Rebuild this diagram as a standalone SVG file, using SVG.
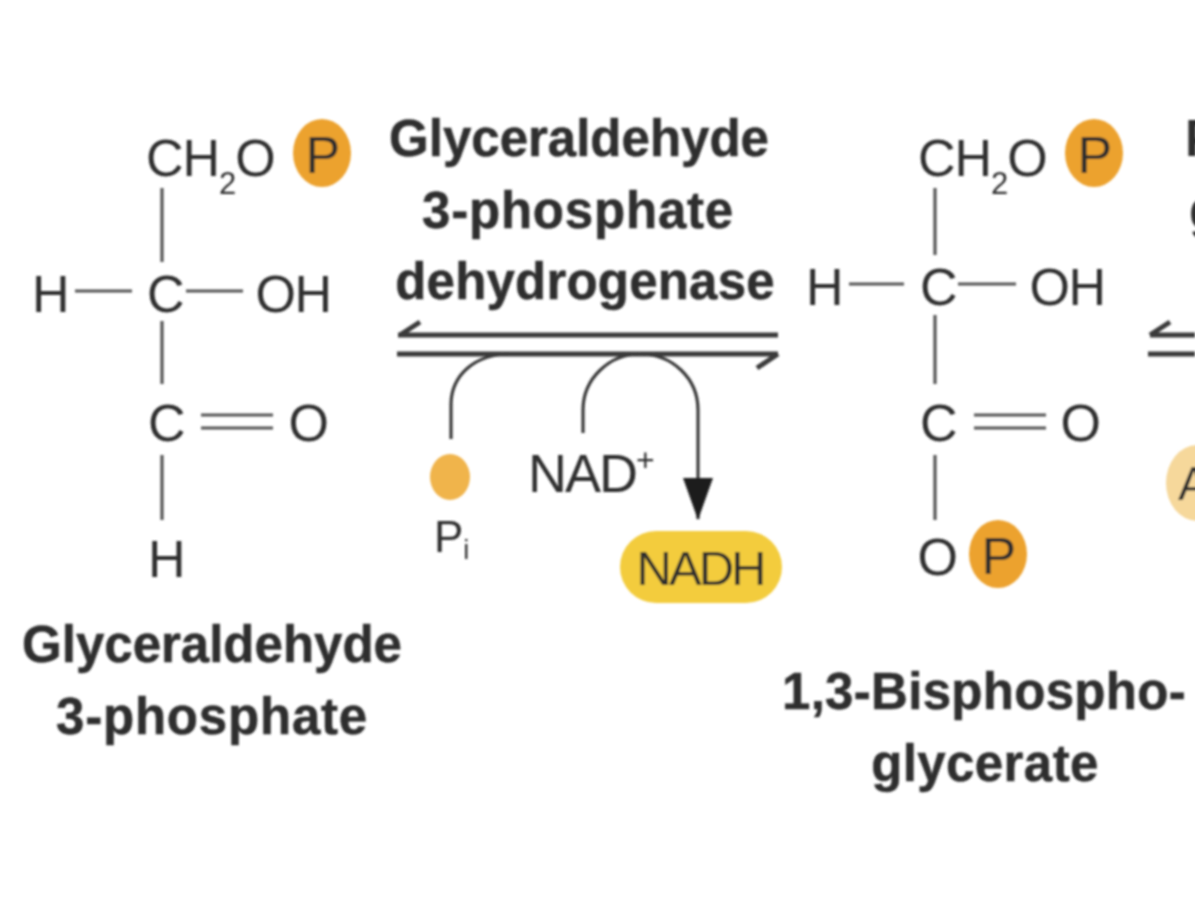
<svg xmlns="http://www.w3.org/2000/svg" width="1195" height="908" viewBox="0 0 1195 908">
<defs>
<filter id="soft" x="-5%" y="-5%" width="110%" height="110%"><feGaussianBlur stdDeviation="0.8"/></filter>
<marker id="head" markerUnits="userSpaceOnUse" markerWidth="42" markerHeight="30" refX="41" refY="15" orient="auto" viewBox="0 0 42 30"><path d="M0 0L42 15L0 30Z" fill="#1f1f1f"/></marker>
</defs>
<style>
text{font-family:"Liberation Sans",Arial,sans-serif;fill:#2f2f2f}
.a{font-size:52px;text-anchor:middle;letter-spacing:-1.5px}
.s{font-size:31px}
.b{font-size:51px;font-weight:700;text-anchor:middle;fill:#2f2f2f;stroke:#2f2f2f;stroke-width:.5}
.w{letter-spacing:.8px}
.bond{stroke:#555;stroke-width:3.2;fill:none}
.eq{stroke:#3a3a3a;stroke-width:5;fill:none}
.thin{stroke:#3a3a3a;stroke-width:3.2;fill:none}
.p{fill:#eca22f}
</style>
<rect width="1195" height="908" fill="#fff"/>
<g filter="url(#soft)">
<g id="connectors">
<path class="bond" d="M162 188V262M75 291H132M186 291H243M162 321V384M201 415H273M201 428H273M162 455V520"/>
<path class="bond" d="M935 188V255M849 284H904M958 284H1016M935 315V384M974 415H1046M974 428H1046M935 455V520"/>
<path class="eq" d="M398 335H778M400 335L420 322M397 354H778M778 354L757 368"/>
<path class="eq" d="M1195 335H1150M1150 335L1170 322M1148 354H1195"/>
<path class="thin" d="M451 439V405C451 375 475 354 510 354"/>
<path class="thin" d="M583 433V410C583 378 610 354 640 354C672 354 698 378 698 410V519" marker-end="url(#head)"/>
</g>
<g id="glyceraldehyde-3-phosphate">
<text class="a" x="146" y="176" style="text-anchor:start;letter-spacing:-1px">CH<tspan class="s" dy="18">2</tspan><tspan dy="-18">O</tspan></text>
<ellipse class="p" cx="322" cy="153" rx="29" ry="34"/><text class="a" x="322" y="173">P</text>
<text class="a" x="50" y="312">H</text><text class="a" x="165" y="312">C</text><text class="a" x="293" y="312">OH</text>
<text class="a" x="166" y="441">C</text><text class="a" x="308" y="441">O</text><text class="a" x="166" y="577">H</text>
<text class="b" x="212" y="662">Glyceraldehyde</text><text class="b w" x="212" y="734">3-phosphate</text>
</g>
<g id="enzyme">
<text class="b" x="579" y="156">Glyceraldehyde</text><text class="b w" x="578" y="228">3-phosphate</text><text class="b" x="585" y="299" style="letter-spacing:.2px">dehydrogenase</text>
</g>
<g id="pi"><ellipse cx="450" cy="477" rx="20" ry="23" fill="#f0b44c"/><text x="434" y="552" style="font-size:44px">P<tspan style="font-size:27px" dy="7">i</tspan></text></g>
<g id="nad"><text x="528" y="492" style="font-size:54px;letter-spacing:-2px">NAD<tspan style="font-size:32px" dy="-21">+</tspan></text></g>
<g id="nadh"><rect x="620" y="531" width="162" height="72" rx="36" fill="#f3cc3d"/><text class="a" x="700" y="585" style="font-size:49px;letter-spacing:-3px">NADH</text></g>
<g id="bisphosphoglycerate">
<text class="a" x="918" y="176" style="text-anchor:start;letter-spacing:-1px">CH<tspan class="s" dy="18">2</tspan><tspan dy="-18">O</tspan></text>
<ellipse class="p" cx="1094" cy="153" rx="29" ry="34"/><text class="a" x="1094" y="173">P</text>
<text class="a" x="824" y="305">H</text><text class="a" x="938" y="305">C</text><text class="a" x="1067" y="305">OH</text>
<text class="a" x="938" y="441">C</text><text class="a" x="1080" y="441">O</text>
<text class="a" x="937" y="575">O</text><ellipse class="p" cx="998" cy="554" rx="29" ry="34"/><text class="a" x="998" y="574">P</text>
<text class="b" x="984" y="709" style="letter-spacing:.3px">1,3-Bisphospho-</text><text class="b" x="985" y="781" style="letter-spacing:.4px">glycerate</text>
</g>
<g id="clipped-right">
<text x="1185" y="156" style="font-size:51px;font-weight:700">P</text><text x="1189" y="228" style="font-size:51px;font-weight:700">g</text>
<ellipse cx="1197" cy="483" rx="31" ry="38" fill="#f6d89b"/><text x="1178" y="500" style="font-size:48px">A</text>
</g>
</g>
</svg>
